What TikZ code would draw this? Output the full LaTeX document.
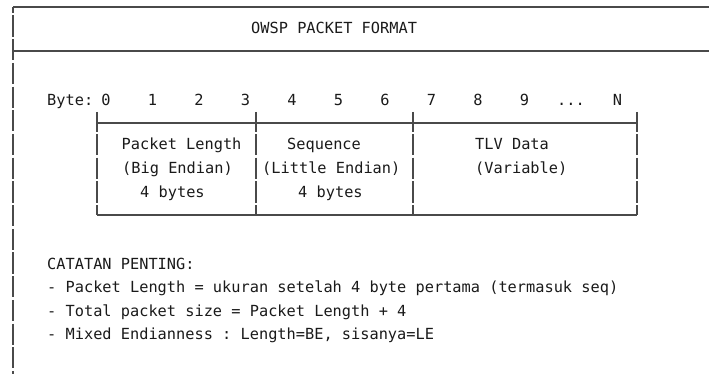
\documentclass[tikz,border=0pt]{standalone}
\usepackage{fontspec}
\setmonofont{DejaVu Sans Mono}
\definecolor{ink}{HTML}{1A1A1A}
\definecolor{rulecol}{HTML}{4A4A4A}
\begin{document}
\begin{tikzpicture}[x=1pt,y=-1pt,
  txt/.style={font=\ttfamily\fontsize{15.3}{18}\selectfont, text=ink, inner sep=0pt, anchor=base west},
  num/.style={txt, anchor=base},
  rule/.style={draw=rulecol, line width=1.3pt},
  % vertical bars built from stacked text cells leave a small gap between rows
  leftbar/.style={dash pattern=on 21.2pt off 2.5pt, dash phase=15.25pt},
  boxbar/.style={dash pattern=on 21.2pt off 2.5pt, dash phase=12.65pt}]
\useasboundingbox (0,0) rectangle (709,374);

% frame
\coordinate (tl) at (13,7);
\coordinate (tr) at (709,7);
\coordinate (ml) at (13,51);
\coordinate (mr) at (709,51);
\coordinate (bl) at (13,374);
\draw[rule] (tl) -- (tr);
\draw[rule] (ml) -- (mr);
\draw[rule, leftbar] (tl) -- (bl);

\node[txt] (title) at (251,33.5) {OWSP PACKET FORMAT};

% byte ruler
\node[txt] (bytelbl) at (47,105.5) {Byte:};
\foreach \i in {0,1,...,9}
  \node[num] (d\i) at (106+46.5*\i,105.5) {\i};
\node[num] (dots) at (571,105.5) {.{}.{}.};
\node[num] (dN) at (617.5,105.5) {N};

% packet fields
\foreach \x [count=\i from 0] in {97,256,413,637} {
  \coordinate (t\i) at (\x,112);
  \coordinate (b\i) at (\x,123);
  \coordinate (c\i) at (\x,215);
  \draw[rule] (t\i) -- (b\i);
  \draw[rule, boxbar] (b\i) -- (c\i);
}
\draw[rule] (b0) -- (b3);
\draw[rule] (c0) -- (c3);

\node[txt] (len1) at (121.5,150) {Packet Length};
\node[txt] (len2) at (122,173.8) {(Big Endian)};
\node[txt] (len3) at (140,197.5) {4 bytes};
\node[txt] (seq1) at (287,150) {Sequence};
\node[txt] (seq2) at (262,173.8) {(Little Endian)};
\node[txt] (seq3) at (298,197.5) {4 bytes};
\node[txt] (tlv1) at (475,150) {TLV Data};
\node[txt] (tlv2) at (475,173.8) {(Variable)};

% notes
\node[txt] (note0) at (47,269) {CATATAN PENTING:};
\node[txt] (note1) at (47,292.5) {- Packet Length = ukuran setelah 4 byte pertama (termasuk seq)};
\node[txt] (note2) at (47,316) {- Total packet size = Packet Length + 4};
\node[txt] (note3) at (47,339.5) {- Mixed Endianness : Length=BE, sisanya=LE};
\end{tikzpicture}
\end{document}
